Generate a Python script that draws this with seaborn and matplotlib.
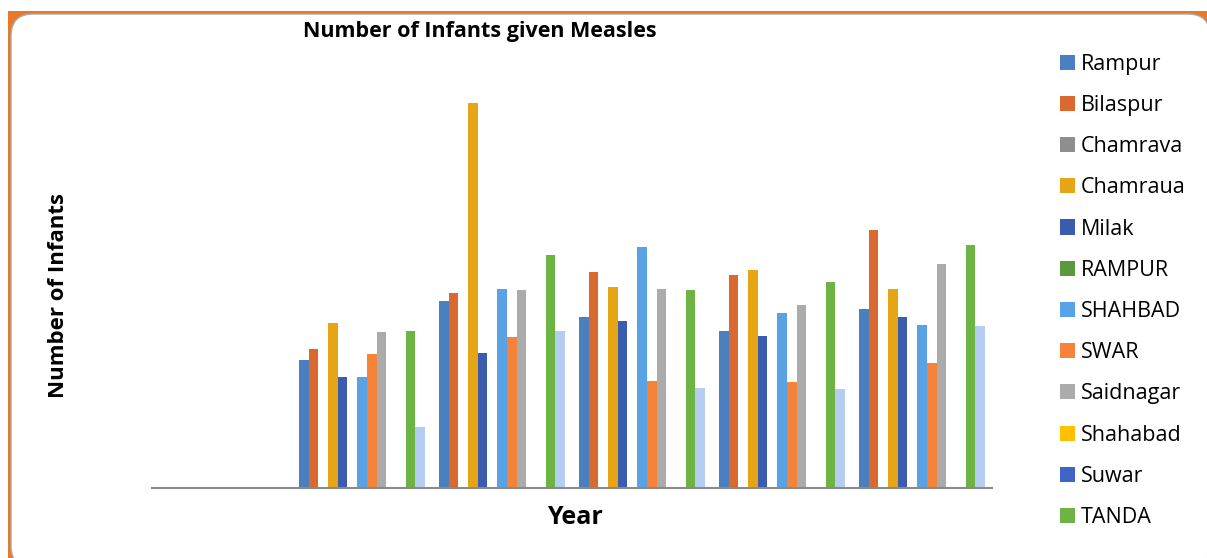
import numpy as np
import pandas as pd
import seaborn as sns
import matplotlib.pyplot as plt
from matplotlib.patches import Rectangle, FancyBboxPatch, Patch
from matplotlib.transforms import IdentityTransform

# ---- data -------------------------------------------------------------
years = ["2010", "2011", "2012", "2013", "2014", "2015"]

series = ["Rampur", "Bilaspur", "Chamrava", "Chamraua", "Milak", "RAMPUR",
          "SHAHBAD", "SWAR", "Saidnagar", "Shahabad", "Suwar", "TANDA", "Others"]

# infants per block and year (None = not reported)
rampur    = [None, 128, 187, 171, 157, 179]
bilaspur  = [None, 139, 195, 216, 213, 258]
chamrava  = [None, None, None, None, None, None]
chamraua  = [None, 165, 385, 201, 218, 199]
milak     = [None, 111, 135, 167, 152, 171]
rampur_u  = [None, None, None, None, None, None]
shahbad   = [None, 111, 199, 241, 175, 163]
swar      = [None, 134, 151, 107, 106, 125]
saidnagar = [None, 156, 198, 199, 183, 224]
shahabad  = [None, None, None, None, None, None]
suwar     = [None, None, None, None, None, None]
tanda     = [None, 157, 233, 198, 206, 243]
others    = [None, 61, 157, 100, 99, 162]

values = [rampur, bilaspur, chamrava, chamraua, milak, rampur_u, shahbad,
          swar, saidnagar, shahabad, suwar, tanda, others]

colors = ["#4A80C0", "#D9692E", "#8E8E8E", "#E5A514", "#3A5BAE", "#5A9A3C",
          "#5AA2E6", "#F6833A", "#ABABAB", "#FFC000", "#3E64C8", "#6DB445",
          "#B4CDF0"]

rows = []
for name, vals in zip(series, values):
    for yr, v in zip(years, vals):
        if v is not None:
            rows.append({"Year": yr, "Block": name, "Infants": v})
df = pd.DataFrame(rows)

# ---- figure -----------------------------------------------------------
W, H = 1207, 558
fig = plt.figure(figsize=(W / 100, H / 100), dpi=100)
fig.patch.set_facecolor("white")

# orange frame with rounded white panel (kept behind the axes)
fig.patches.append(Rectangle((8, -50), W + 50, H - 11 + 50, transform=IdentityTransform(),
                             facecolor="#E8782A", edgecolor="none", zorder=-3))
fig.patches.append(FancyBboxPatch((11, -10), W + 3 - 11, H - 14 + 10,
                                  boxstyle="round,pad=0,rounding_size=22",
                                  transform=IdentityTransform(),
                                  facecolor="white", edgecolor="#A8A8A8",
                                  linewidth=1, zorder=-2))

ax = fig.add_axes([152 / W, (H - 488) / H, 840 / W, 428 / H])
ax.set_facecolor("none")
ax.set_zorder(1)

sns.barplot(data=df, x="Year", y="Infants", hue="Block", order=years,
            hue_order=series, palette=dict(zip(series, colors)),
            saturation=1, width=0.9, errorbar=None, legend=False, ax=ax)

ax.set_xlim(-0.5, len(years) - 0.5)
ax.set_ylim(0, 428)
for s in ["top", "right", "left"]:
    ax.spines[s].set_visible(False)
ax.spines["bottom"].set_color("#8A8A8A")
ax.spines["bottom"].set_linewidth(1.5)
ax.set_xticks([])
ax.set_yticks([])
ax.set_xlabel("")
ax.set_ylabel("")

font = ["Open Sans", "DejaVu Sans"]
fig.text(480 / W, 1 - 31 / H, "Number of Infants given Measles", ha="center",
         va="center", fontsize=15.5, fontweight="bold", family=font, zorder=2)
fig.text(575 / W, 1 - 517 / H, "Year", ha="center", va="center",
         fontsize=18, fontweight="bold", family=font, zorder=2)
fig.text(59 / W, 1 - 295 / H, "Number of Infants", ha="center", va="center",
         rotation=90, fontsize=16, fontweight="bold", family=font, zorder=2)

handles = [Patch(facecolor=c, edgecolor="none") for c in colors[:12]]
leg = fig.legend(handles, series[:12], loc="upper left",
                 bbox_to_anchor=(1051 / W, 1 - 45 / H), frameon=False,
                 prop={"family": font, "size": 15.5}, handlelength=0.7,
                 handleheight=0.7, handletextpad=0.3, labelspacing=0.94,
                 borderaxespad=0)
leg.set_zorder(2)

fig.savefig("out.png", dpi=100)
